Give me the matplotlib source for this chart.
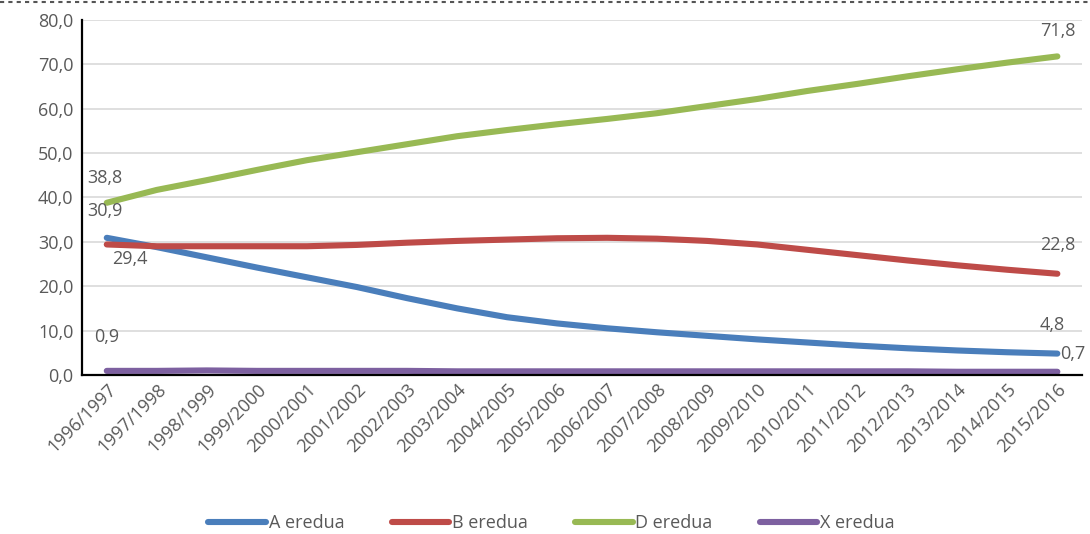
import matplotlib
matplotlib.use("Agg")
import matplotlib.pyplot as plt
from matplotlib.lines import Line2D
from matplotlib.ticker import FuncFormatter

seasons = ["1996/1997", "1997/1998", "1998/1999", "1999/2000", "2000/2001",
           "2001/2002", "2002/2003", "2003/2004", "2004/2005", "2005/2006",
           "2006/2007", "2007/2008", "2008/2009", "2009/2010", "2010/2011",
           "2011/2012", "2012/2013", "2013/2014", "2014/2015", "2015/2016"]

a_eredua = [30.9, 28.8, 26.5, 24.2, 22.0, 19.8, 17.3, 15.0, 13.0, 11.6,
            10.5, 9.6, 8.8, 8.0, 7.3, 6.6, 6.0, 5.5, 5.1, 4.8]
b_eredua = [29.4, 29.0, 29.0, 29.0, 29.0, 29.3, 29.8, 30.2, 30.5, 30.8,
            30.9, 30.7, 30.2, 29.4, 28.2, 27.0, 25.8, 24.7, 23.7, 22.8]
d_eredua = [38.8, 41.7, 43.9, 46.2, 48.4, 50.2, 52.0, 53.8, 55.2, 56.5,
            57.7, 59.0, 60.6, 62.2, 64.0, 65.6, 67.3, 68.9, 70.4, 71.8]
x_eredua = [0.9, 0.9, 1.0, 0.9, 0.9, 0.9, 0.9, 0.8, 0.8, 0.8,
            0.8, 0.8, 0.8, 0.8, 0.8, 0.8, 0.8, 0.7, 0.7, 0.7]

series = [("A eredua", a_eredua, "#4a7ebb"),
          ("B eredua", b_eredua, "#be4b48"),
          ("D eredua", d_eredua, "#98b954"),
          ("X eredua", x_eredua, "#7d60a0")]

plt.rcParams["font.family"] = ["Open Sans", "DejaVu Sans"]
txt_col = "#595959"

fig = plt.figure(figsize=(10.9, 5.34), dpi=100)
ax = fig.add_axes([0.075, 0.298, 0.918, 0.6645])

xs = list(range(len(seasons)))
for name, vals, col in series:
    ax.plot(xs, vals, color=col, lw=4.4, solid_capstyle="round",
            solid_joinstyle="round", label=name)

ax.set_xlim(-0.5, len(seasons) - 0.5)
ax.set_ylim(0, 80)
ax.set_yticks(range(0, 81, 10))
ax.yaxis.set_major_formatter(FuncFormatter(lambda v, p: f"{v:.1f}".replace(".", ",")))
ax.set_xticks(xs)
ax.set_xticklabels(seasons, rotation=45, ha="right", rotation_mode="anchor")
ax.tick_params(axis="both", length=0, labelsize=13, colors=txt_col, pad=6)
ax.tick_params(axis="x", pad=4)
ax.grid(axis="y", color="#d9d9d9", lw=1.2)
ax.set_axisbelow(True)
for s in ["top", "right"]:
    ax.spines[s].set_visible(False)
for s in ["left", "bottom"]:
    ax.spines[s].set_color("black")
    ax.spines[s].set_linewidth(1.6)

def fmt(v):
    return f"{v:.1f}".replace(".", ",")

# first / last value labels
lbl = dict(fontsize=13, color=txt_col)
ax.text(-0.39, d_eredua[0] + 3.5, fmt(d_eredua[0]), ha="left", va="bottom", **lbl)
ax.text(-0.39, a_eredua[0] + 4.0, fmt(a_eredua[0]), ha="left", va="bottom", **lbl)
ax.text(0.1, b_eredua[0] - 1.2, fmt(b_eredua[0]), ha="left", va="top", **lbl)
ax.text(-0.25, x_eredua[0] + 5.5, fmt(x_eredua[0]), ha="left", va="bottom", **lbl)
last = len(seasons) - 1
ax.text(last, d_eredua[-1] + 3.8, fmt(d_eredua[-1]), ha="center", va="bottom", **lbl)
ax.text(last, b_eredua[-1] + 4.5, fmt(b_eredua[-1]), ha="center", va="bottom", **lbl)
ax.text(last - 0.1, a_eredua[-1] + 4.5, fmt(a_eredua[-1]), ha="center", va="bottom", **lbl)
ax.text(last + 0.05, a_eredua[-1], fmt(x_eredua[-1]), ha="left", va="center", **lbl)

handles = [Line2D([], [], color=c, lw=4.4, solid_capstyle="round") for _, _, c in series]
fig.legend(handles, [n for n, _, _ in series], loc="center", bbox_to_anchor=(0.506, 0.02),
           ncol=4, frameon=False, fontsize=13, handlelength=3.2, columnspacing=2.6,
           handletextpad=0.15, labelcolor=txt_col)

# dotted border along the top edge
fig.add_artist(Line2D([0, 1], [0.997, 0.997], transform=fig.transFigure,
                      color="#555555", lw=1.5, ls=(0, (2, 2))))

fig.savefig("out.png", dpi=100)
